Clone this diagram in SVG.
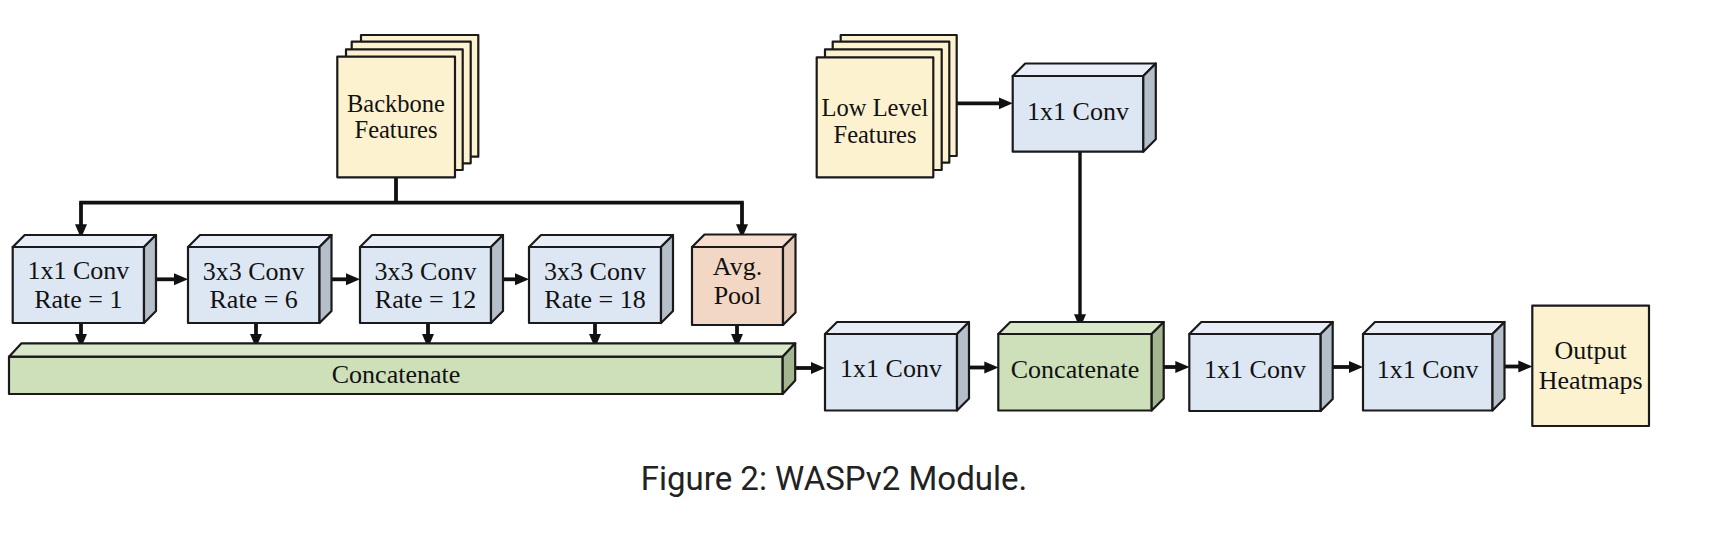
<svg xmlns="http://www.w3.org/2000/svg" width="1720" height="536" viewBox="0 0 1720 536">
<defs>
<marker id="ah" viewBox="0 0 14 13" refX="5" refY="6.5" markerWidth="14" markerHeight="13" markerUnits="userSpaceOnUse" orient="auto">
<path d="M0,0.5 L14,6.5 L0,12.5 Z" fill="#111"/>
</marker>
</defs>
<style>
.s{stroke:#1a1a1a;stroke-width:2.2;stroke-linejoin:round}
.bf{fill:#dde7f4}.bt{fill:#e7eef8}.bs{fill:#b5bfca}
.gf{fill:#cde0b9}.gt{fill:#d8e8c8}.gs{fill:#a3b68f}
.of{fill:#f3d7c5}.ot{fill:#f6dfd0}.os{fill:#e6cbb8}
.y{fill:#fdf2d0}
.t{font-family:"Liberation Serif","Times New Roman",serif;font-size:26px;fill:#111;text-anchor:middle}
.ts{font-size:24.5px}
.c{stroke:#111;stroke-width:3.8;fill:none}
.a{marker-end:url(#ah)}
.cap{font-family:Roboto,"Liberation Sans",sans-serif;font-size:33px;fill:#222;text-anchor:middle}
</style>
<rect width="1720" height="536" fill="#fff"/>

<g id="connectors">
<path class="c" d="M396,177.3 V202.7"/>
<path class="c" d="M79.2,202.7 H743.8"/>
<path class="c a" d="M81,202.7 V229.3"/>
<path class="c a" d="M742,202.7 V229.3"/>
<path class="c a" d="M147,279.3 H179"/>
<path class="c a" d="M323,279.3 H351"/>
<path class="c a" d="M494,279.3 H520"/>
<path class="c a" d="M81,323 V339"/>
<path class="c a" d="M256,323 V339"/>
<path class="c a" d="M428,323 V339"/>
<path class="c a" d="M595,323 V339"/>
<path class="c a" d="M737,325 V339"/>
<path class="c a" d="M786,368 H816"/>
<path class="c a" d="M960,367.5 H989.3"/>
<path class="c a" d="M1155,367 H1180.3"/>
<path class="c a" d="M1324,367 H1354"/>
<path class="c a" d="M1496,366.5 H1523.3"/>
<path class="c a" d="M957,103.3 H1003.7"/>
<path class="c a" style="stroke-width:3.4" d="M1080,151.7 V319.3"/>
</g>

<g id="backbone">
<rect class="s y" x="361" y="35" width="117.3" height="121.7"/>
<rect class="s y" x="351.7" y="41.7" width="119" height="121.6"/>
<rect class="s y" x="346" y="49.3" width="116.7" height="120.7"/>
<rect class="s y" x="337.3" y="56.7" width="117.7" height="120.6"/>
<text class="t ts" x="396" y="111.7">Backbone</text>
<text class="t ts" x="396" y="138.3">Features</text>
</g>

<g id="lowlevel">
<rect class="s y" x="840.7" y="35" width="116" height="121"/>
<rect class="s y" x="832.7" y="41.7" width="116.6" height="121"/>
<rect class="s y" x="825" y="49.3" width="116.7" height="120.7"/>
<rect class="s y" x="816.7" y="57.3" width="116.6" height="120"/>
<text class="t ts" x="875" y="116">Low Level</text>
<text class="t ts" x="875" y="142.7">Features</text>
</g>

<g id="conv1">
<rect class="s bf" x="12.7" y="247" width="131.3" height="76"/>
<path class="s bt" d="M12.7,247 L24.7,235 L156,235 L144,247 Z"/>
<path class="s bs" d="M144,247 L156,235 L156,311 L144,323 Z"/>
<text class="t" x="78.3" y="279">1x1 Conv</text>
<text class="t" x="78.3" y="308">Rate = 1</text>
</g>

<g id="conv6">
<rect class="s bf" x="188" y="247" width="131.5" height="76"/>
<path class="s bt" d="M188,247 L200,235 L331.5,235 L319.5,247 Z"/>
<path class="s bs" d="M319.5,247 L331.5,235 L331.5,311 L319.5,323 Z"/>
<text class="t" x="253.7" y="279.5">3x3 Conv</text>
<text class="t" x="253.7" y="308.3">Rate = 6</text>
</g>

<g id="conv12">
<rect class="s bf" x="360" y="247" width="131" height="76"/>
<path class="s bt" d="M360,247 L372,235 L503,235 L491,247 Z"/>
<path class="s bs" d="M491,247 L503,235 L503,311 L491,323 Z"/>
<text class="t" x="425.5" y="279.5">3x3 Conv</text>
<text class="t" x="425.5" y="308.3">Rate = 12</text>
</g>

<g id="conv18">
<rect class="s bf" x="529" y="247" width="132" height="76"/>
<path class="s bt" d="M529,247 L541,235 L673,235 L661,247 Z"/>
<path class="s bs" d="M661,247 L673,235 L673,311 L661,323 Z"/>
<text class="t" x="595" y="279.5">3x3 Conv</text>
<text class="t" x="595" y="308.3">Rate = 18</text>
</g>

<g id="avgpool">
<rect class="s of" x="692" y="247" width="91" height="78"/>
<path class="s ot" d="M692,247 L704.5,234.5 L795.5,234.5 L783,247 Z"/>
<path class="s os" d="M783,247 L795.5,234.5 L795.5,312.5 L783,325 Z"/>
<text class="t" x="737.5" y="275">Avg.</text>
<text class="t" x="737.5" y="303.5">Pool</text>
</g>

<g id="concat1">
<rect class="s gf" x="9" y="356.7" width="773.7" height="37.3"/>
<path class="s gt" d="M9,356.7 L21.5,343.3 L795.2,343.3 L782.7,356.7 Z"/>
<path class="s gs" d="M782.7,356.7 L795.2,343.3 L795.2,380.6 L782.7,394 Z"/>
<text class="t" x="396" y="383">Concatenate</text>
</g>

<g id="convLow">
<rect class="s bf" x="1012.7" y="76" width="130.6" height="75.7"/>
<path class="s bt" d="M1012.7,76 L1025.2,63.5 L1155.8,63.5 L1143.3,76 Z"/>
<path class="s bs" d="M1143.3,76 L1155.8,63.5 L1155.8,139.2 L1143.3,151.7 Z"/>
<text class="t" x="1078" y="120">1x1 Conv</text>
</g>

<g id="convA">
<rect class="s bf" x="825" y="334" width="132" height="76.5"/>
<path class="s bt" d="M825,334 L837,322 L969,322 L957,334 Z"/>
<path class="s bs" d="M957,334 L969,322 L969,398.5 L957,410.5 Z"/>
<text class="t" x="891" y="377">1x1 Conv</text>
</g>

<g id="concat2">
<rect class="s gf" x="998.3" y="334" width="153.4" height="76.5"/>
<path class="s gt" d="M998.3,334 L1010.3,322 L1163.7,322 L1151.7,334 Z"/>
<path class="s gs" d="M1151.7,334 L1163.7,322 L1163.7,398.5 L1151.7,410.5 Z"/>
<text class="t" x="1075" y="378">Concatenate</text>
</g>

<g id="convB">
<rect class="s bf" x="1189.3" y="334" width="131.4" height="77"/>
<path class="s bt" d="M1189.3,334 L1201.3,322 L1332.7,322 L1320.7,334 Z"/>
<path class="s bs" d="M1320.7,334 L1332.7,322 L1332.7,399 L1320.7,411 Z"/>
<text class="t" x="1255" y="377.5">1x1 Conv</text>
</g>

<g id="convC">
<rect class="s bf" x="1363" y="334" width="129.5" height="76.5"/>
<path class="s bt" d="M1363,334 L1375,322 L1504.5,322 L1492.5,334 Z"/>
<path class="s bs" d="M1492.5,334 L1504.5,322 L1504.5,398.5 L1492.5,410.5 Z"/>
<text class="t" x="1427.7" y="377.5">1x1 Conv</text>
</g>

<g id="output">
<rect class="s y" x="1532.3" y="305.7" width="116.7" height="120.3"/>
<text class="t" x="1590.7" y="359">Output</text>
<text class="t" x="1590.7" y="388.5">Heatmaps</text>
</g>

<text class="cap" x="834" y="490">Figure 2: WASPv2 Module.</text>
</svg>
